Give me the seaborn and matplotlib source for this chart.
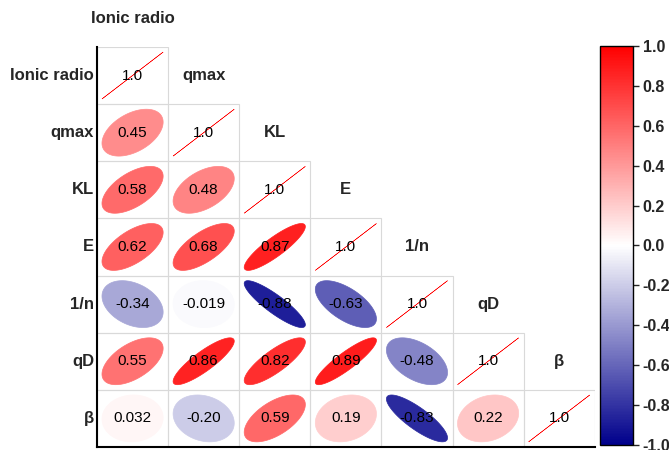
import numpy as np
import pandas as pd
import matplotlib
matplotlib.use("Agg")
import matplotlib.pyplot as plt
import seaborn as sns
from matplotlib.colors import LinearSegmentedColormap, ListedColormap, Normalize
from matplotlib.patches import Polygon, Rectangle
from matplotlib.cm import ScalarMappable

# Variables and lower-triangle correlation coefficients (row by row)
variables = ["Ionic radio", "qmax", "KL", "E", "1/n", "qD", "β"]
r_qmax = [0.45]
r_KL = [0.58, 0.48]
r_E = [0.62, 0.68, 0.87]
r_inv_n = [-0.34, -0.019, -0.88, -0.63]
r_qD = [0.55, 0.86, 0.82, 0.89, -0.48]
r_beta = [0.032, -0.20, 0.59, 0.19, -0.83, 0.22]
colorbar_ticks = [-1.0, -0.8, -0.6, -0.4, -0.2, 0.0, 0.2, 0.4, 0.6, 0.8, 1.0]

n = len(variables)
corr = np.eye(n)
for i, row in enumerate([r_qmax, r_KL, r_E, r_inv_n, r_qD, r_beta], start=1):
    corr[i, :len(row)] = row
    corr[:len(row), i] = row
df = pd.DataFrame(corr, index=variables, columns=variables)

sns.set_style("white")
plt.rcParams["font.family"] = ["Liberation Sans", "DejaVu Sans"]

cmap = LinearSegmentedColormap.from_list("bwr_corr", ["#00008B", "#FFFFFF", "#FF0000"])
norm = Normalize(-1, 1)

fig = plt.figure(figsize=(6.69, 4.50), dpi=100)
ax = fig.add_axes([0.145, 0.0067, 0.744, 0.889])

upper = np.triu(np.ones_like(corr, dtype=bool), k=1)
sns.heatmap(df, mask=upper, cmap=ListedColormap(["white"]), cbar=False,
            linewidths=0, ax=ax)

# Ellipse glyphs: contour of a bivariate normal with correlation r
sx, sy = 0.86, 0.82
t = np.linspace(0, 2 * np.pi, 120)
for i in range(n):
    for j in range(i + 1):
        ax.add_patch(Rectangle((j, i), 1, 1, facecolor="none", edgecolor="#d9d9d9",
                               linewidth=0.8, zorder=2))
        r = df.iloc[i, j]
        a = np.arccos(np.clip(r, -1, 1))
        ex = np.cos(t + a / 2) / 2
        ey = np.cos(t - a / 2) / 2
        pts = np.column_stack([j + 0.5 + sx * ex, i + 0.5 - sy * ey])
        col = cmap(norm(r))
        lw = 0.35 if abs(r) >= 0.999 else 0.5
        ax.add_patch(Polygon(pts, closed=True, facecolor=col, edgecolor=col,
                             linewidth=lw, zorder=3))
        ax.text(j + 0.5, i + 0.5, f"{r:#.2g}", ha="center", va="center",
                fontsize=11, color="black", zorder=4)

# Column names sit just above the diagonal cell
for j, name in enumerate(variables):
    ax.text(j + 0.5, j - 0.5, name, ha="center", va="center", fontsize=12,
            fontweight="bold", clip_on=False)

ax.set_xticks([])
ax.set_yticks(np.arange(n) + 0.5)
ax.set_yticklabels(variables, rotation=0, fontsize=12, fontweight="bold")
ax.tick_params(axis="y", length=0, pad=2)
ax.set_xlabel("")
ax.set_ylabel("")
for side in ["left", "bottom"]:
    ax.spines[side].set_visible(True)
    ax.spines[side].set_color("black")
    ax.spines[side].set_linewidth(1.5)
    ax.spines[side].set_zorder(5)
for side in ["top", "right"]:
    ax.spines[side].set_visible(False)

cax = fig.add_axes([0.897, 0.011, 0.049, 0.887])
sm = ScalarMappable(norm=norm, cmap=cmap)
cb = fig.colorbar(sm, cax=cax, ticks=colorbar_ticks, format="%.1f")
cb.outline.set_linewidth(1.0)
cb.outline.set_edgecolor("black")
cax.tick_params(length=4, width=1, pad=3, labelsize=11.5)
for lab in cax.get_yticklabels():
    lab.set_fontweight("bold")

fig.savefig("out.png", dpi=100)
